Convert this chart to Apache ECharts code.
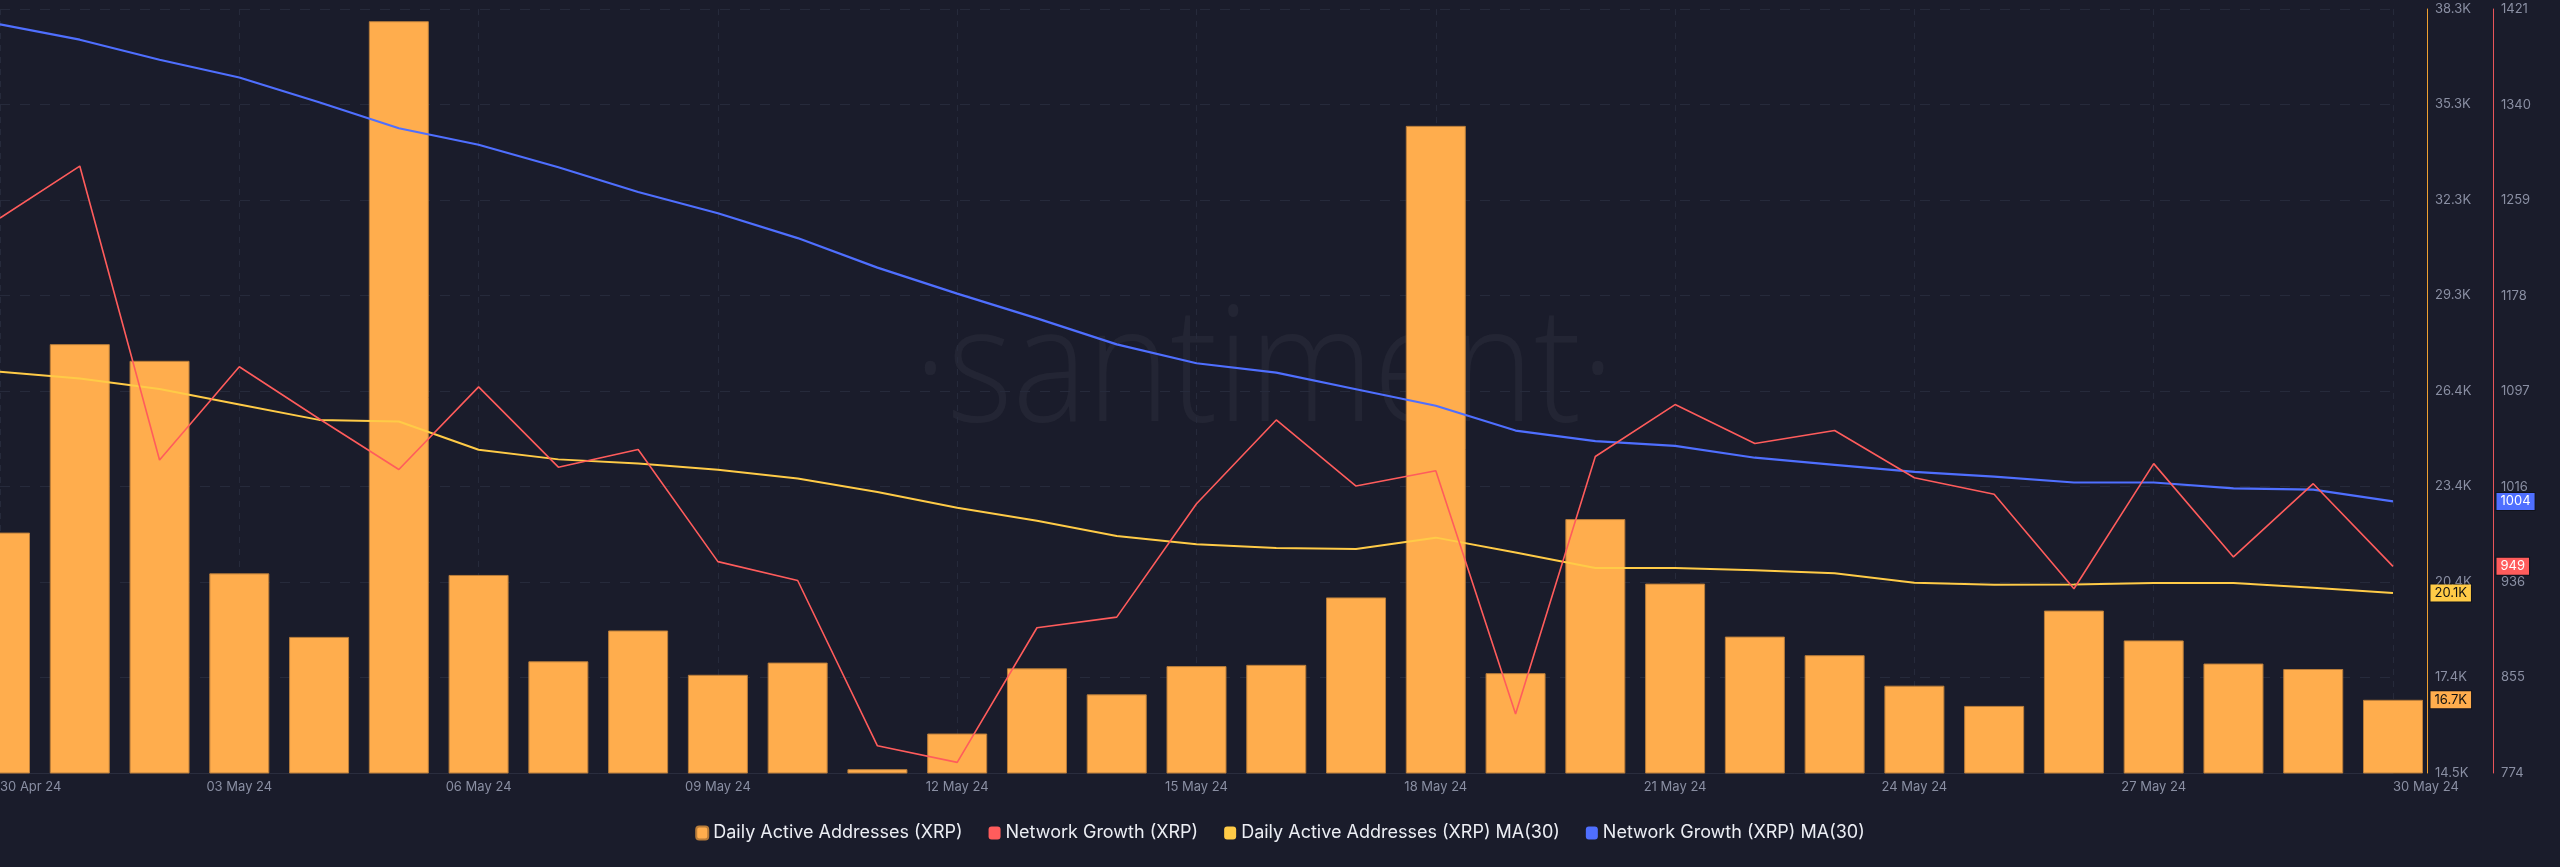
<!DOCTYPE html>
<html>
<head>
<meta charset="utf-8">
<script src="https://cdn.jsdelivr.net/npm/echarts@6/dist/echarts.min.js"></script>
<style>
html,body{margin:0;padding:0;background:#1a1c2b;}
#chart{width:2560px;height:867px;}
</style>
</head>
<body>
<div id="chart"></div>
<script>
const dates = ['30 Apr 24','01 May 24','02 May 24','03 May 24','04 May 24','05 May 24','06 May 24','07 May 24','08 May 24','09 May 24','10 May 24','11 May 24','12 May 24','13 May 24','14 May 24','15 May 24','16 May 24','17 May 24','18 May 24','19 May 24','20 May 24','21 May 24','22 May 24','23 May 24','24 May 24','25 May 24','26 May 24','27 May 24','28 May 24','29 May 24','30 May 24'];

const dailyActiveAddresses = [21950, 27820, 27300, 20680, 18700, 37880, 20630, 17940, 18900, 17520, 17900, 14580, 15690, 17720, 16910, 17790, 17830, 19930, 34620, 17570, 22370, 20360, 18710, 18130, 17180, 16550, 19520, 18590, 17870, 17700, 16740];

const networkGrowth = [1244, 1288, 1039, 1118, 1074, 1031, 1101, 1033, 1048, 953, 937, 797, 783, 897, 906, 1002, 1073, 1017, 1030, 824, 1042, 1086, 1053, 1064, 1024, 1010, 930, 1036, 957, 1019, 949];

const dailyActiveAddressesMA30 = [26960, 26750, 26420, 25940, 25460, 25410, 24530, 24230, 24100, 23910, 23635, 23215, 22720, 22317, 21840, 21588, 21468, 21435, 21792, 21330, 20843, 20843, 20778, 20682, 20390, 20325, 20332, 20382, 20382, 20228, 20068];

const networkGrowthMA30 = [1408, 1395, 1378, 1363, 1342, 1320, 1306, 1287, 1266, 1248, 1227, 1202, 1180, 1159, 1137, 1121, 1113, 1099, 1085, 1064, 1055, 1051, 1041, 1035, 1029, 1025, 1020, 1020, 1015, 1014, 1004];

const daaTicks = [14460, 17435, 20410, 23385, 26360, 29335, 32310, 35285, 38260];
const ngTicks = [774, 855, 936, 1016, 1097, 1178, 1259, 1340, 1421];

const seriesNames = ['Daily Active Addresses (XRP)', 'Network Growth (XRP)', 'Daily Active Addresses (XRP) MA(30)', 'Network Growth (XRP) MA(30)'];

const C_BAR = '#ffad4d', C_RED = '#ff5c5c', C_YEL = '#ffcb47', C_BLUE = '#4f6fff';
const LABEL_C = '#8a8fa3';
const FONT = 'Inter, "Noto Sans", sans-serif';
const kfmt = v => (v / 1000).toFixed(1) + 'K';
const last = a => a[a.length - 1];
const lastIdx = dates.length - 1;

const chart = echarts.init(document.getElementById('chart'), null, {renderer: 'canvas'});

function boxLabel(bg, fg, dist, fmt) {
  return {
    show: true, position: 'right', distance: dist,
    formatter: p => fmt(p.value),
    backgroundColor: bg, color: fg, borderColor: 'rgba(0,0,0,0.35)', borderWidth: 1,
    padding: [2, 4, 2, 4], fontSize: 13, lineHeight: 13, fontFamily: FONT
  };
}

chart.setOption({
  animation: false,
  backgroundColor: '#1a1c2b',
  textStyle: {fontFamily: FONT},
  graphic: [{
    type: 'text', x: 1264, y: 375, scaleX: 0.88, z: 0, silent: true,
    style: {text: '·santiment·', fill: 'rgba(255,255,255,0.045)', font: '300 160px "Open Sans", sans-serif', textAlign: 'center', textVerticalAlign: 'middle'}
  }],
  grid: {left: 0, right: 167, top: 9, bottom: 94, containLabel: false, outerBoundsMode: 'none'},
  legend: {
    top: 819, left: 'center', icon: 'roundRect', itemWidth: 12, itemHeight: 13, itemGap: 26,
    textStyle: {color: '#eceef4', fontSize: 18, fontFamily: FONT},
    data: seriesNames
  },
  xAxis: {
    type: 'category', data: dates, boundaryGap: false,
    axisLine: {show: true, lineStyle: {color: '#2a2d3e'}},
    axisTick: {show: false},
    axisLabel: {interval: 2, color: LABEL_C, fontSize: 13, margin: 8, alignMinLabel: 'left', alignMaxLabel: 'left'},
    splitLine: {show: true, interval: 2, lineStyle: {color: '#262a3b', type: [6, 6], width: 1}}
  },
  yAxis: [{
    type: 'value', position: 'right', offset: 34, min: daaTicks[0], max: last(daaTicks),
    axisLine: {show: true, lineStyle: {color: '#f0a030', width: 1}},
    axisTick: {show: false, customValues: daaTicks},
    axisLabel: {customValues: daaTicks, formatter: kfmt, color: LABEL_C, fontSize: 13, margin: 8},
    splitLine: {show: true, lineStyle: {color: '#262a3b', type: [10, 10], width: 1}}
  }, {
    type: 'value', position: 'right', offset: 100, min: ngTicks[0], max: last(ngTicks),
    axisLine: {show: true, lineStyle: {color: '#e8555a', width: 1}},
    axisTick: {show: false, customValues: ngTicks},
    axisLabel: {customValues: ngTicks, formatter: v => String(Math.round(v)), color: LABEL_C, fontSize: 13, margin: 8},
    splitLine: {show: false}
  }],
  series: [{
    name: seriesNames[0], type: 'bar', yAxisIndex: 0, data: dailyActiveAddresses,
    barWidth: 60, clip: true, z: 2,
    itemStyle: {color: C_BAR, borderColor: '#b97d3a', borderWidth: 1}
  }, {
    name: seriesNames[1], type: 'line', yAxisIndex: 1, data: networkGrowth,
    symbol: 'none', clip: false, z: 5,
    lineStyle: {color: C_RED, width: 1.6}, itemStyle: {color: C_RED}
  }, {
    name: seriesNames[2], type: 'line', yAxisIndex: 0, data: dailyActiveAddressesMA30,
    symbol: 'none', clip: false, z: 4,
    lineStyle: {color: C_YEL, width: 2}, itemStyle: {color: C_YEL},
    markPoint: {
      symbol: 'circle', symbolSize: 1, z: 20, itemStyle: {color: 'rgba(0,0,0,0)'},
      data: [
        {coord: [lastIdx, last(dailyActiveAddressesMA30)], value: last(dailyActiveAddressesMA30), label: boxLabel(C_YEL, '#111', 37, kfmt)},
        {coord: [lastIdx, last(dailyActiveAddresses)], value: last(dailyActiveAddresses), label: boxLabel(C_BAR, '#111', 37, kfmt)}
      ]
    }
  }, {
    name: seriesNames[3], type: 'line', yAxisIndex: 1, data: networkGrowthMA30,
    symbol: 'none', clip: false, z: 4,
    lineStyle: {color: C_BLUE, width: 2.2}, itemStyle: {color: C_BLUE},
    markPoint: {
      symbol: 'circle', symbolSize: 1, z: 20, itemStyle: {color: 'rgba(0,0,0,0)'},
      data: [
        {coord: [lastIdx, last(networkGrowthMA30)], value: last(networkGrowthMA30), label: boxLabel(C_BLUE, '#fff', 103, v => String(v))},
        {coord: [lastIdx, last(networkGrowth)], value: last(networkGrowth), label: boxLabel(C_RED, '#fff', 103, v => String(v))}
      ]
    }
  }]
});
</script>
</body>
</html>
